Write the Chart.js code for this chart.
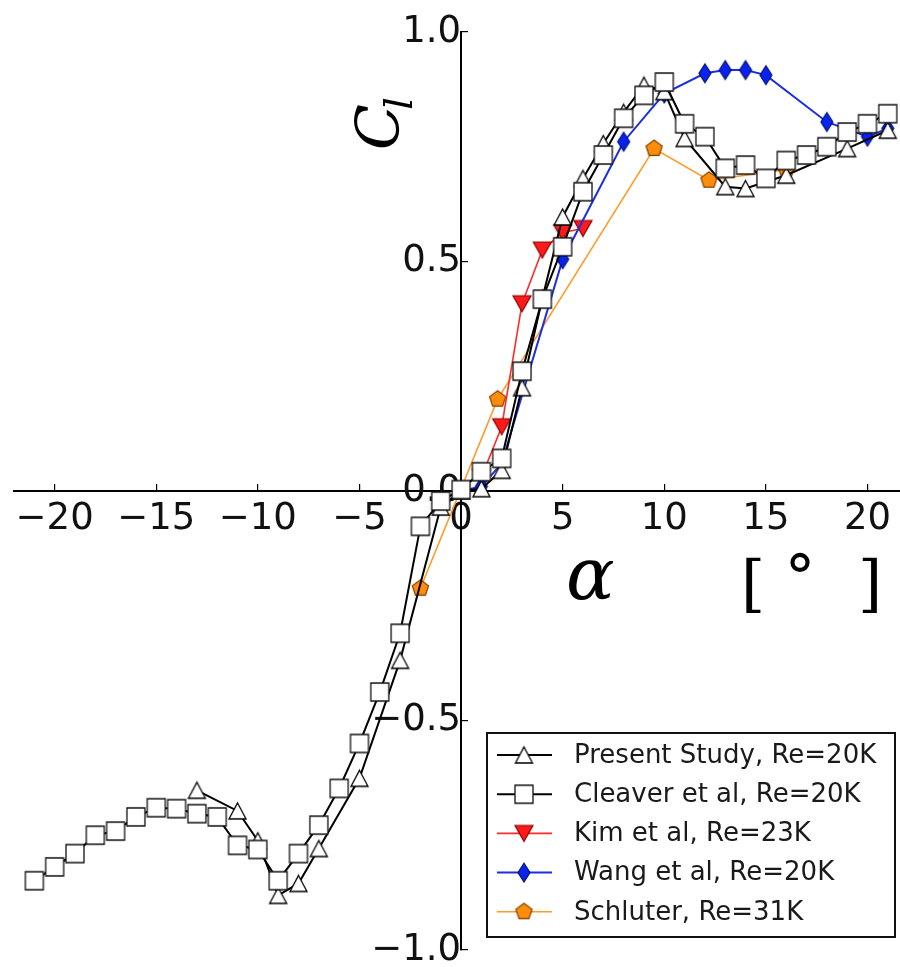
<!DOCTYPE html>
<html>
<head>
<meta charset="utf-8">
<script src="https://cdn.jsdelivr.net/npm/chart.js@4.4.0/dist/chart.umd.min.js"></script>
<style>
html, body { margin: 0; padding: 0; background: #fff; overflow: hidden; }
canvas { display: block; }
</style>
</head>
<body>
<canvas id="clChart" width="900" height="967"></canvas>
<script>
// lift coefficient vs angle of attack
const presentAlpha = [-13, -11, -10, -9, -8, -7, -5, -3, -1, 0, 1, 2, 3, 4, 5, 6, 7, 8, 9, 10, 11, 13, 14, 16, 19, 21];
const presentCl = [-0.652, -0.697, -0.762, -0.881, -0.855, -0.779, -0.626, -0.369, -0.035, 0.0, 0.005, 0.045, 0.225, 0.42, 0.597, 0.681, 0.757, 0.825, 0.884, 0.87, 0.768, 0.663, 0.659, 0.688, 0.746, 0.786];

const cleaverAlpha = [-21, -20, -19, -18, -17, -16, -15, -14, -13, -12, -11, -10, -9, -8, -7, -6, -5, -4, -3, -2, -1, 0, 1, 2, 3, 4, 5, 6, 7, 8, 9, 10, 11, 12, 13, 14, 15, 16, 17, 18, 19, 20, 21];
const cleaverCl = [-0.849, -0.819, -0.790, -0.750, -0.741, -0.710, -0.690, -0.692, -0.703, -0.710, -0.772, -0.781, -0.849, -0.790, -0.728, -0.648, -0.550, -0.438, -0.310, -0.077, -0.022, 0.003, 0.042, 0.071, 0.261, 0.418, 0.532, 0.652, 0.732, 0.812, 0.862, 0.891, 0.80, 0.772, 0.703, 0.71, 0.681, 0.72, 0.732, 0.750, 0.782, 0.80, 0.822];

const kimAlpha = [1, 2, 3, 4, 5, 6];
const kimCl = [0.03, 0.14, 0.408, 0.525, 0.563, 0.572];

const wangAlpha = [0, 1, 2, 5, 8, 10, 12, 13, 14, 15, 18, 20, 21];
const wangCl = [0, 0.01, 0.06, 0.505, 0.761, 0.866, 0.91, 0.917, 0.917, 0.906, 0.804, 0.772, 0.79];

const schluterAlpha = [-2, 1.8, 9.5, 12.2, 16];
const schluterCl = [-0.212, 0.2, 0.746, 0.677, 0.70];

const seriesLabels = ['Present Study, Re=20K', 'Cleaver et al, Re=20K', 'Kim et al, Re=23K', 'Wang et al, Re=20K', 'Schluter, Re=31K'];

const xTicks = [-20, -15, -10, -5, 0, 5, 10, 15, 20];
const yTicks = [-1.0, -0.5, 0.0, 0.5, 1.0];

function makeMarker(shape, w, h, fill, stroke, lw) {
    let c = document.createElement('canvas');
    c.width = w + 4;
    c.height = h + 4;
    let g = c.getContext('2d');
    let cx = c.width / 2, cy = c.height / 2;
    g.beginPath();
    if (shape === 'square') {
        g.rect(cx - w / 2, cy - h / 2, w, h);
    } else if (shape === 'up') {
        g.moveTo(cx, cy - h / 2);
        g.lineTo(cx + w / 2, cy + h / 2);
        g.lineTo(cx - w / 2, cy + h / 2);
        g.closePath();
    } else if (shape === 'down') {
        g.moveTo(cx, cy + h / 2);
        g.lineTo(cx + w / 2, cy - h / 2);
        g.lineTo(cx - w / 2, cy - h / 2);
        g.closePath();
    } else if (shape === 'diamond') {
        g.moveTo(cx, cy - h / 2);
        g.lineTo(cx + w / 2, cy);
        g.lineTo(cx, cy + h / 2);
        g.lineTo(cx - w / 2, cy);
        g.closePath();
    } else if (shape === 'pentagon') {
        for (let i = 0; i < 5; i++) {
            let a = -Math.PI / 2 + i * 2 * Math.PI / 5;
            let px = cx + Math.cos(a) * w / 2;
            let py = cy + Math.sin(a) * h / 2;
            if (i === 0) g.moveTo(px, py); else g.lineTo(px, py);
        }
        g.closePath();
    }
    g.fillStyle = fill;
    g.fill();
    g.lineWidth = lw;
    g.strokeStyle = stroke;
    g.stroke();
    return c;
}

const markers = [
    makeMarker('up', 17, 16, '#ffffff', '#000000', 1.3),
    makeMarker('square', 18, 18, '#ffffff', '#111111', 1.3),
    makeMarker('down', 18, 16, '#ff1a1a', '#8a0000', 1.2),
    makeMarker('diamond', 12, 19, '#0a22ee', '#001070', 1.2),
    makeMarker('pentagon', 17, 17, '#ff8c0a', '#7a4000', 1.2)
];
const lineColors = ['#000000', '#000000', '#ff2a2a', '#1c2fe0', '#ff9b2a'];
const lineWidths = [2, 2, 1.6, 2, 1.6];
// drawing order: lower number ends up on top
const drawOrder = [2, 1, 4, 3, 5];

function toPoints(xs, ys) {
    return xs.map((x, i) => ({x: x, y: ys[i]}));
}

const allData = [
    toPoints(presentAlpha, presentCl),
    toPoints(cleaverAlpha, cleaverCl),
    toPoints(kimAlpha, kimCl),
    toPoints(wangAlpha, wangCl),
    toPoints(schluterAlpha, schluterCl)
];

let datasets = [];
for (let i = 0; i < allData.length; i++) {
    datasets.push({
        label: seriesLabels[i],
        data: allData[i],
        showLine: true,
        borderColor: lineColors[i],
        borderWidth: lineWidths[i],
        pointStyle: markers[i],
        pointRadius: 8,
        tension: 0,
        order: drawOrder[i]
    });
}

function minusLabel(v, digits) {
    let s = Math.abs(v).toFixed(digits);
    return v < 0 ? '\u2212' + s : s;
}

// axis labels and legend box drawn on top
const decor = {
    id: 'decor',
    afterDraw(chart) {
        let ctx = chart.ctx;
        let xs = chart.scales.x, ys = chart.scales.y;
        let x0 = xs.getPixelForValue(0);
        let area = chart.chartArea;

        ctx.save();
        ctx.fillStyle = '#000';
        ctx.textBaseline = 'alphabetic';
        // C_l, rotated
        ctx.save();
        ctx.translate(x0 - 62, ys.getPixelForValue(1) + 118);
        ctx.rotate(-Math.PI / 2);
        ctx.font = 'italic 60px "DejaVu Serif"';
        ctx.fillText('C', 0, 0);
        let cw = ctx.measureText('C').width;
        ctx.font = 'italic 40px "DejaVu Serif"';
        ctx.fillText('l', cw - 6, 13);
        ctx.restore();

        // alpha [deg]
        let yb = ys.getPixelForValue(0) + 108;
        ctx.font = 'italic 72px "DejaVu Serif"';
        ctx.fillText('\u03b1', area.right - 334, yb);
        ctx.font = '62px "DejaVu Serif"';
        ctx.textAlign = 'center';
        ctx.fillText('[', area.right - 147, yb + 6);
        ctx.fillText('\u00b0', area.right - 100, yb);
        ctx.fillText(']', area.right - 30, yb + 6);
        ctx.restore();

        // legend
        let lx = 487, ly = 733, lw = 408, lh = 204;
        ctx.save();
        ctx.fillStyle = '#fff';
        ctx.fillRect(lx, ly, lw, lh);
        ctx.lineWidth = 2;
        ctx.strokeStyle = '#111';
        ctx.strokeRect(lx, ly, lw, lh);
        ctx.font = '26px "DejaVu Sans"';
        ctx.textBaseline = 'middle';
        ctx.textAlign = 'left';
        chart.data.datasets.forEach((ds, i) => {
            let cy = ly + 22 + i * 39.2;
            ctx.beginPath();
            ctx.strokeStyle = ds.borderColor;
            ctx.lineWidth = ds.borderWidth;
            ctx.moveTo(lx + 10, cy);
            ctx.lineTo(lx + 65, cy);
            ctx.stroke();
            let m = ds.pointStyle;
            ctx.drawImage(m, lx + 37 - m.width / 2, cy - m.height / 2);
            ctx.fillStyle = '#1a1a1a';
            ctx.fillText(ds.label, lx + 87, cy + 1);
        });
        ctx.restore();
    }
};

function zeroPad(scale) {
    scale.paddingLeft = 0;
    scale.paddingRight = 0;
    scale.paddingTop = 0;
    scale.paddingBottom = 0;
}

new Chart(document.getElementById('clChart'), {
    type: 'scatter',
    data: {datasets: datasets},
    options: {
        responsive: false,
        animation: false,
        layout: {autoPadding: false, padding: {left: 14, right: 0, top: 32, bottom: 17}},
        plugins: {
            legend: {display: false},
            tooltip: {enabled: false}
        },
        scales: {
            x: {
                type: 'linear',
                min: -22,
                max: 21.6,
                position: {y: 0},
                afterBuildTicks: (s) => { s.ticks = xTicks.map(v => ({value: v})); },
                afterFit: zeroPad,
                grid: {drawOnChartArea: false, drawTicks: true, tickLength: -8, color: '#000', lineWidth: 1.2},
                border: {color: '#000', width: 2},
                ticks: {
                    autoSkip: false,
                    maxRotation: 0,
                    padding: 14,
                    color: '#111',
                    font: {family: 'DejaVu Sans', size: 37},
                    callback: (v) => minusLabel(v, 0)
                }
            },
            y: {
                type: 'linear',
                min: -1,
                max: 1,
                position: {x: 0},
                afterBuildTicks: (s) => { s.ticks = yTicks.map(v => ({value: v})); },
                afterFit: zeroPad,
                grid: {drawOnChartArea: false, drawTicks: true, tickLength: -8, color: '#000', lineWidth: 1.2},
                border: {color: '#000', width: 2},
                ticks: {
                    autoSkip: false,
                    padding: 27,
                    color: '#111',
                    font: {family: 'DejaVu Sans', size: 37},
                    callback: (v) => minusLabel(v, 1)
                }
            }
        }
    },
    plugins: [decor]
});
</script>
</body>
</html>
